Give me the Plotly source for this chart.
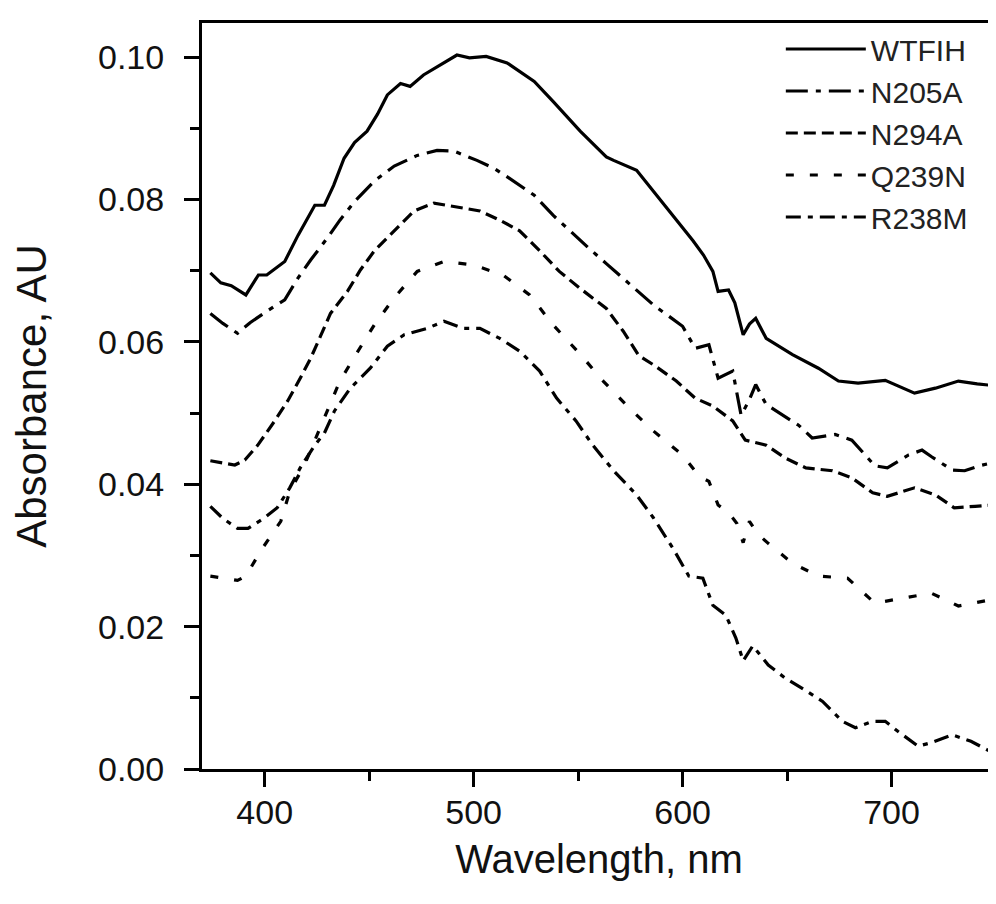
import plotly.graph_objects as go

# ---------------- data ----------------
wtfih_wl = [374, 379, 384, 391, 397, 401, 409.6, 416, 424, 428.6, 433, 438, 443, 449, 454, 458.7, 465, 469.6,
            476, 484, 492, 498, 506, 516, 529, 538, 551, 563.5, 567, 578, 586, 595, 605, 610, 614.5, 617, 622,
            625, 629, 632, 635, 640, 652.6, 665, 674.6, 684, 697, 711, 721, 732, 741, 751]
wtfih_v = [.0697, .0683, .0679, .0666, .0694, .0694, .0713, .0750, .0792, .0792, .0820, .0858, .0880, .0896,
           .0920, .0947, .0963, .0959, .0975, .0989, .1003, .0999, .1001, .0992, .0966, .0938, .0896, .0860,
           .0855, .0841, .0812, .0778, .0742, .0722, .0699, .0671, .0673, .0655, .0610, .0625, .0633, .0605,
           .0582, .0563, .0545, .0542, .0546, .0528, .0535, .0545, .0541, .0538]

n205a_wl = [374, 380, 387, 393, 401, 409.6, 416, 422, 430, 436, 443, 452.5, 462, 473, 482.5, 490.6, 501.6,
            509.7, 517, 529, 538, 546, 555, 563.5, 573, 586, 600, 606, 612.6, 617, 624, 628, 631.7, 635, 640,
            648, 655.5, 662, 673, 681, 692, 698, 708, 714.6, 719, 729, 735, 742, 748]
n205a_v = [.0640, .0626, .0612, .0627, .0643, .0659, .0690, .0715, .0746, .0771, .0797, .0826, .0847, .0862,
           .0869, .0868, .0855, .0844, .0830, .0806, .0778, .0756, .0732, .0710, .0685, .0652, .0622, .0591,
           .0596, .0549, .0559, .0497, .0517, .0540, .0512, .0497, .0483, .0465, .0470, .0462, .0426, .0423,
           .0441, .0448, .0439, .0420, .0419, .0426, .0430]

n294a_wl = [374, 380, 385.7, 390.5, 396.7, 404.8, 411, 417, 422, 426.7, 431.5, 439.6, 445.8, 452.5, 462, 471.5,
            481, 487, 493, 503, 512.5, 522, 531.6, 541, 550.6, 554, 563.5, 571.6, 579, 587, 597, 606, 614.5,
            624, 630, 640, 649, 659, 671.7, 681, 691, 698, 711, 721, 730, 740, 749]
n294a_v = [.0433, .0430, .0427, .0434, .0455, .0489, .0517, .0549, .0577, .0608, .0640, .0671, .0701, .0728,
           .0756, .0784, .0795, .0792, .0788, .0784, .0771, .0756, .0728, .0699, .0676, .0668, .0647, .0615,
           .0581, .0566, .0545, .0521, .0510, .0489, .0462, .0455, .0437, .0423, .0419, .0409, .0388, .0383,
           .0395, .0385, .0367, .0369, .0371]

q239n_wl = [374, 380, 387, 391, 398, 407.7, 412, 419, 430, 436, 444, 452.5, 462, 473, 485.8, 500, 514, 526.8,
            538, 550.6, 562, 574.5, 586, 600, 608, 612.6, 617, 622, 626, 629, 632, 636, 641, 652.6, 665, 679,
            692, 705.6, 719, 732, 746, 750]
q239n_v = [.0271, .0268, .0265, .0271, .0306, .0348, .0390, .0427, .0503, .0545, .0584, .0624, .0662, .0699,
           .0713, .0708, .0694, .0666, .0624, .0584, .0545, .0507, .0475, .0441, .0411, .0404, .0371, .0360,
           .0345, .0318, .0348, .0330, .0317, .0289, .0271, .0268, .0233, .0240, .0247, .0229, .0237, .0238]

r238m_wl = [374, 380, 387, 392, 400, 406, 412, 417, 424, 428.6, 433.4, 441, 450.5, 458.7, 466.8, 477.7, 485.8,
            495, 503, 512.5, 522, 531.6, 539.7, 549, 557, 567, 578, 586, 595.4, 603, 609.7, 614.5, 620.7, 625.5,
            629, 633.6, 641, 649, 659, 667, 676.5, 682.7, 690.8, 697, 703, 712.7, 719, 729, 738, 749]
r238m_v = [.0369, .0352, .0338, .0338, .0353, .0367, .0395, .0423, .0455, .0472, .0503, .0535, .0563, .0594,
           .0610, .0619, .0629, .0619, .0619, .0605, .0587, .0559, .0521, .0489, .0455, .0419, .0385, .0353,
           .0310, .0271, .0268, .0230, .0216, .0184, .0152, .0173, .0146, .0128, .0110, .0095, .0067, .0058,
           .0067, .0067, .0053, .0032, .0037, .0048, .0039, .0022]

series_names = ["WTFIH", "N205A", "N294A", "Q239N", "R238M"]
series_x = [wtfih_wl, n205a_wl, n294a_wl, q239n_wl, r238m_wl]
series_y = [wtfih_v, n205a_v, n294a_v, q239n_v, r238m_v]
dashes = ["solid", "22px,8px,5px,8px", "12px,6px", "8px,16px", "15px,7px,5px,7px"]

x_ticks = [400, 500, 600, 700]
y_ticks = [0.00, 0.02, 0.04, 0.06, 0.08, 0.10]

FONT = "Liberation Sans, Arial, sans-serif"

fig = go.Figure()
for name, xs, ys, d in zip(series_names, series_x, series_y, dashes):
    fig.add_trace(go.Scatter(x=xs, y=ys, mode="lines", name=name,
                             line=dict(color="black", width=3.2, dash=d)))

axis_common = dict(showgrid=False, zeroline=False, showline=True, linecolor="black", linewidth=3,
                   mirror=True, ticks="outside", ticklen=15, tickwidth=3, tickcolor="black",
                   tickfont=dict(family=FONT, size=34, color="#111"))

fig.update_layout(
    width=996, height=904,
    margin=dict(l=194, r=5, t=15, b=143),
    paper_bgcolor="white", plot_bgcolor="white",
    font=dict(family=FONT, color="#111"),
    xaxis=dict(range=[370, 750], tickvals=x_ticks, ticktext=[str(v) for v in x_ticks],
               minor=dict(dtick=50, tick0=400, ticks="outside", ticklen=9, tickwidth=3, tickcolor="black"),
               title=dict(text="Wavelength, nm", font=dict(family=FONT, size=40, color="#111"), standoff=16),
               ticklabelstandoff=-4,
               **axis_common),
    yaxis=dict(range=[0, 0.1048], tickvals=y_ticks, ticktext=[f"{v:.2f}" for v in y_ticks],
               minor=dict(dtick=0.01, tick0=0, ticks="outside", ticklen=9, tickwidth=3, tickcolor="black"),
               title=dict(text="Absorbance, AU", font=dict(family=FONT, size=42, color="#111"), standoff=40),
               ticklabelstandoff=13,
               **axis_common),
    legend=dict(x=0.729, y=1.0, xanchor="left", yanchor="top", bgcolor="rgba(0,0,0,0)",
                font=dict(family=FONT, size=30, color="#222"), itemwidth=80, tracegroupgap=0),
    showlegend=True,
)

fig.write_html("out.html")
